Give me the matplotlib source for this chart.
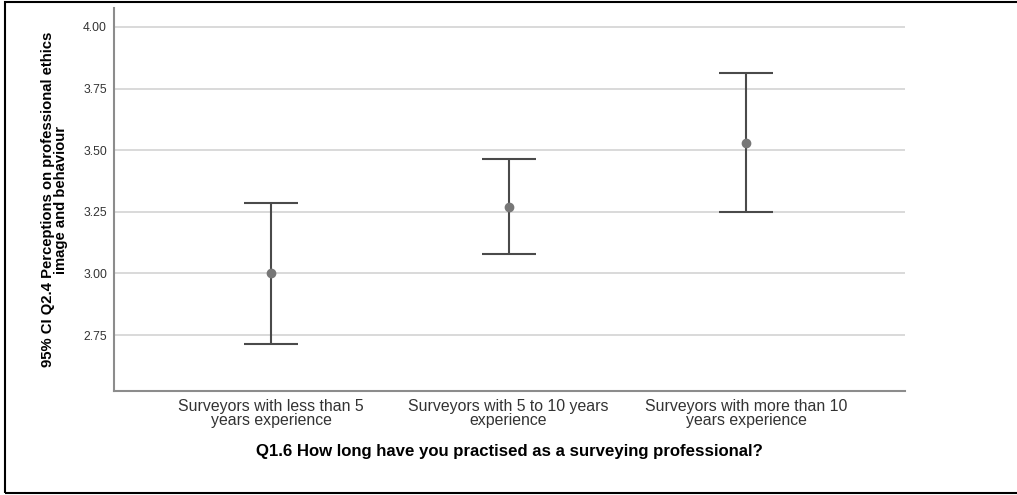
import matplotlib.pyplot as plt
from matplotlib.patches import Rectangle

plt.rcParams['font.family'] = ['Liberation Sans', 'DejaVu Sans']

# group labels and 95% CI values
groups = ['Surveyors with less than 5\nyears experience',
          'Surveyors with 5 to 10 years\nexperience',
          'Surveyors with more than 10\nyears experience']
means = [3.00, 3.27, 3.53]
lower = [2.715, 3.08, 3.25]
upper = [3.285, 3.465, 3.815]
yticks = [2.75, 3.00, 3.25, 3.50, 3.75, 4.00]

fig = plt.figure(figsize=(10.17, 4.95), dpi=100)
ax = fig.add_axes([114 / 1017, (495 - 391) / 495, (905 - 114) / 1017, (391 - 8) / 495])

x = list(range(len(groups)))
err_lo = [m - l for m, l in zip(means, lower)]
err_hi = [u - m for m, u in zip(means, upper)]
ax.errorbar(x, means, yerr=[err_lo, err_hi], fmt='none', ecolor='#4a4a4a',
            elinewidth=1.5, capsize=19.5, capthick=1.5, zorder=3)
ax.plot(x, means, 'o', color='#777777', markersize=6, zorder=4)

ax.set_xlim(-0.661, 2.669)
ax.set_ylim(2.523, 4.077)
ax.set_yticks(yticks)
ax.set_yticklabels([f'{v:.2f}' for v in yticks], fontsize=8.7, color='#333333')
ax.set_xticks(x)
ax.set_xticklabels(groups, fontsize=11.4, color='#333333', linespacing=0.93)
ax.tick_params(length=0)
ax.tick_params(axis='x', pad=6)
ax.tick_params(axis='y', pad=5)

ax.grid(axis='y', color='#d3d3d3', linewidth=1.2, zorder=0)
ax.set_axisbelow(True)
for s in ['top', 'right']:
    ax.spines[s].set_visible(False)
for s in ['left', 'bottom']:
    ax.spines[s].set_color('#8c8c8c')
    ax.spines[s].set_linewidth(1.5)

ax.set_xlabel('Q1.6 How long have you practised as a surveying professional?',
              fontsize=12.1, fontweight='bold', labelpad=11)
ax.set_ylabel('95% CI Q2.4 Perceptions on professional ethics\nimage and behaviour',
              fontsize=10.7, fontweight='bold', labelpad=11, linespacing=0.92)

# outer frame
fig.patches.append(Rectangle((5 / 1017, 2 / 495), 1.2, 491 / 495, transform=fig.transFigure,
                             fill=False, edgecolor='black', linewidth=1.5))

fig.savefig('out.png', dpi=100)
